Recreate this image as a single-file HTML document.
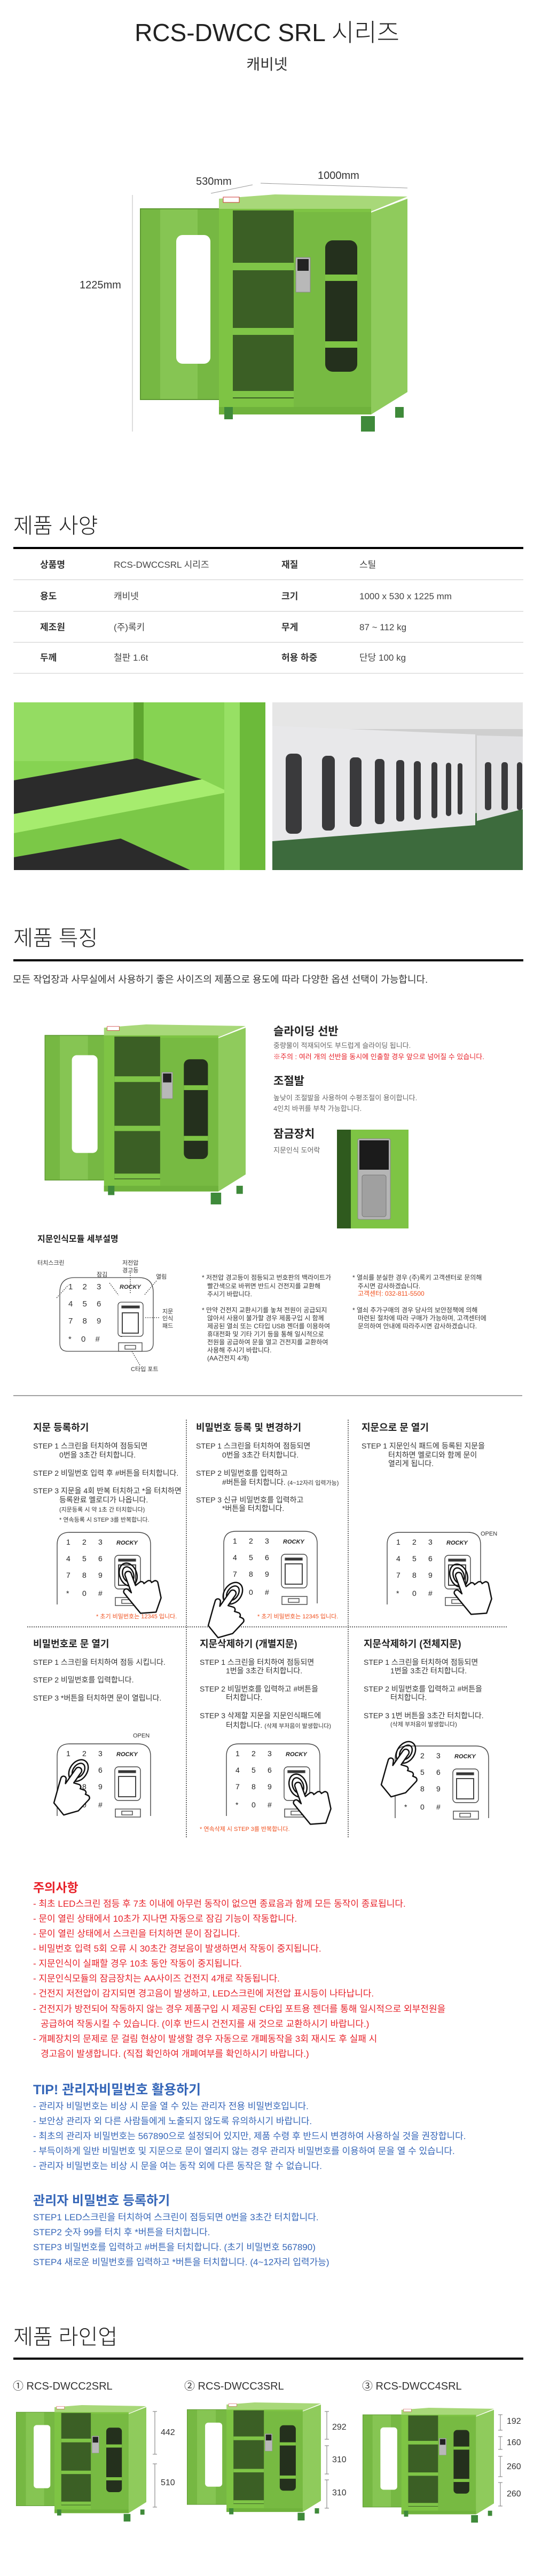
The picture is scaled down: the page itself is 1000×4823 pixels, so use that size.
<!DOCTYPE html>
<html><head><meta charset="utf-8">
<style>
*{margin:0;padding:0;box-sizing:border-box}
body{width:1000px;height:4823px;position:relative;background:#fff;font-family:"Liberation Sans","Noto Sans CJK KR",sans-serif;color:#333;overflow:hidden}
.t{position:absolute;white-space:nowrap}
.h1{font-size:40px;font-weight:300;color:#222;line-height:40px}
.ln{position:absolute;left:25px;width:955px;height:4px;background:#000}
.rl{position:absolute;left:25px;width:955px;height:1px;background:#ccc}
.lb{font-size:17px;font-weight:bold;color:#333;line-height:18px}
.vl{font-size:17px;color:#444;line-height:18px}
.ft{font-size:21px;font-weight:bold;color:#222;line-height:22px}
.fx{font-size:13px;color:#666;line-height:14px}
.nt{font-size:12px;color:#333;line-height:14px}
.st{font-size:18px;font-weight:bold;color:#222;line-height:20px}
.sp{font-size:14px;color:#333;line-height:16px}
.sm{font-size:11px;color:#333;line-height:12px}
.rd{color:#e8222a}
.or{color:#f0501e}
.cu{font-size:17px;color:#e8222a;line-height:18px}
.bl{font-size:17px;color:#3566b8;line-height:18px}
svg{position:absolute;left:0;top:0}
</style></head><body>
<svg width="1000" height="4823" viewBox="0 0 1000 4823">
<defs>
<symbol id="cab" viewBox="0 0 503 444" preserveAspectRatio="none">
<rect x="3" y="27" width="150" height="357" fill="#76b843"/>
<rect x="40" y="27" width="70" height="357" fill="#86c553"/>
<rect x="3" y="27" width="150" height="357" fill="none" stroke="#5f9a33" stroke-width="2"/>
<rect x="70" y="76" width="64" height="241" rx="12" fill="#fff"/>
<polygon points="150,8 255,0 503,4 430,34 150,34" fill="#a8d879"/>
<rect x="150" y="27" width="285" height="385" fill="#7ec444"/>
<rect x="176" y="30" width="114" height="352" fill="#3b5f25"/>
<rect x="176" y="128" width="114" height="14" fill="#7fc547"/>
<rect x="176" y="250" width="114" height="13" fill="#7fc547"/>
<rect x="176" y="368" width="114" height="12" fill="#7fc547"/>
<rect x="290" y="33" width="145" height="365" fill="#77ba42"/>
<rect x="349" y="86" width="60" height="246" rx="14" fill="#24301d"/>
<rect x="349" y="150" width="60" height="12" fill="#7ec444"/>
<rect x="349" y="275" width="60" height="12" fill="#7ec444"/>
<rect x="294" y="118" width="27" height="65" fill="#b8b8b8" stroke="#888"/>
<rect x="297" y="121" width="21" height="22" fill="#222"/>
<polygon points="435,34 503,8 503,370 435,412" fill="#8fcb5c"/>
<rect x="150" y="398" width="285" height="14" fill="#6fb23c"/>
<rect x="158" y="5" width="30" height="10" fill="#fff" stroke="#c33"/>
<rect x="160" y="398" width="16" height="23" fill="#3f8a3a"/>
<rect x="416" y="415" width="26" height="29" fill="#3f8a3a"/>
<rect x="480" y="398" width="16" height="20" fill="#3f8a3a"/>
</symbol>
</defs>
<!-- dims -->
<line x1="395" y1="362" x2="473" y2="346" stroke="#999"/>
<line x1="488" y1="343" x2="763" y2="352" stroke="#999"/>
<line x1="248" y1="365" x2="248" y2="808" stroke="#bbb"/>
<use href="#cab" x="260" y="364" width="503" height="444"/>
<!-- photos -->
<g transform="translate(26,1315)">
<rect width="471" height="314" fill="#86d352"/>
<rect width="230" height="110" fill="#94dc62"/>
<rect x="224" y="0" width="19" height="110" fill="#5ea62f"/>
<polygon points="0,146 230,105 352,144 0,209" fill="#2b2b2b"/>
<polygon points="0,209 352,144 403,168 0,245" fill="#a6ec6e"/>
<polygon points="0,245 403,168 403,314 0,314" fill="#7bc847"/>
<polygon points="0,290 200,255 330,314 0,314" fill="#2b2b2b"/>
<rect x="394" y="0" width="29" height="314" fill="#97e064"/>
<rect x="423" y="0" width="48" height="314" fill="#6cba3a"/>
</g>
<g transform="translate(510,1315)">
<rect width="469" height="314" fill="#cfcfcf"/>
<rect width="469" height="50" fill="#e6e6e6"/>
<polygon points="0,240 469,200 469,314 0,314" fill="#3d6b3d"/>
<polygon points="0,44 380,60 380,230 0,260" fill="#e8e8ea"/>
<polygon points="383,62 469,64 469,200 383,222" fill="#e2e2e4"/>
<g fill="#3a3a3c">
<rect x="25" y="96" width="30" height="150" rx="10"/><rect x="93" y="100" width="24" height="140" rx="9"/>
<rect x="145" y="103" width="22" height="130" rx="8"/><rect x="192" y="106" width="18" height="122" rx="7"/>
<rect x="232" y="108" width="15" height="115" rx="6"/><rect x="265" y="110" width="13" height="110" rx="6"/>
<rect x="298" y="112" width="11" height="105" rx="5"/><rect x="325" y="113" width="10" height="100" rx="5"/>
<rect x="347" y="114" width="9" height="96" rx="4"/><rect x="398" y="112" width="12" height="90" rx="5"/>
<rect x="429" y="112" width="12" height="90" rx="5"/><rect x="458" y="112" width="10" height="90" rx="5"/>
</g>
</g>
<use href="#cab" x="82" y="1918" width="378" height="337"/>
<!-- lock image -->
<rect x="631" y="2115" width="134" height="185" fill="#7ec444"/>
<rect x="631" y="2115" width="26" height="185" fill="#2f5a1e"/>
<rect x="670" y="2132" width="61" height="151" rx="3" fill="#b5b5b5" stroke="#888"/>
<rect x="673" y="2135" width="55" height="55" fill="#1b1b1b"/>
<rect x="678" y="2200" width="45" height="78" rx="4" fill="#a0a0a0" stroke="#777"/>
<!-- module diagram -->
<g fill="none" stroke="#444" stroke-width="1.3">
<path d="M112,2420 Q112,2392 140,2392 L260,2392 Q287,2392 287,2420 L287,2515 Q287,2530 272,2530 L127,2530 Q112,2530 112,2515 Z" fill="#fff"/>
<rect x="221" y="2438" width="47" height="64" rx="6"/>
<rect x="228" y="2445" width="33" height="4" fill="#333"/>
<rect x="229" y="2458" width="30" height="38" stroke-width="2"/>
<rect x="222" y="2514" width="44" height="16" fill="#fff"/>
<rect x="234" y="2519" width="20" height="7"/>
<path d="M106,2430 L128,2406" stroke-dasharray="2,2"/>
<path d="M205,2402 L222,2425" stroke-dasharray="2,2"/>
<path d="M244,2383 L244,2423" stroke-dasharray="2,2"/>
<path d="M293,2398 L270,2425" stroke-dasharray="2,2"/>
<path d="M272,2467 L300,2467" stroke-dasharray="2,2"/>
<path d="M247,2530 L262,2556" stroke-dasharray="2,2"/>
</g>
<rect x="226" y="2502" width="3" height="1" fill="#333"/>
<line x1="25" y1="2613" x2="978" y2="2613" stroke="#444"/>
<g stroke="#333" stroke-width="1.5" stroke-dasharray="2,2">
<line x1="349" y1="2658" x2="349" y2="3440"/>
<line x1="652" y1="2658" x2="652" y2="3440"/>
<line x1="51" y1="3046" x2="950" y2="3046"/>
</g>
<!-- line-up -->
<use href="#cab" x="29" y="4503" width="245" height="218"/>
<use href="#cab" x="349" y="4498" width="252" height="221"/>
<use href="#cab" x="678" y="4508" width="247" height="215"/>
<g stroke="#777" stroke-width="1">
<path d="M290,4515V4595M286,4515h8M286,4595h8M290,4613V4694M286,4613h8M286,4694h8"/>
<path d="M612,4515V4567M608,4515h8M608,4567h8M612,4579V4632M608,4579h8M608,4632h8M612,4643V4696M608,4643h8M608,4696h8"/>
<path d="M937,4521V4550M933,4521h8M933,4550h8M937,4562V4586M933,4562h8M933,4586h8M937,4599V4637M933,4599h8M933,4637h8M937,4648V4692M933,4648h8M933,4692h8"/>
</g>
</svg>

<!-- keypads as separate svgs -->
<svg style="left:106px;top:2868px" width="178" height="140" viewBox="0 0 178 140"><g fill="none" stroke="#444" stroke-width="1.4"><path d="M1,136 V24 Q1,1 24,1 H152 Q176,1 176,24 V136" fill="#fff"/><rect x="109" y="44" width="48" height="63" rx="7"/><rect x="116" y="51" width="32" height="4" fill="#333"/><rect x="116" y="62" width="32" height="38" stroke-width="2"/><rect x="110" y="123" width="47" height="15" fill="#fff"/><rect x="122" y="127" width="20" height="7"/></g><g font-size="14" fill="#222" font-family="Liberation Sans"><text x="18" y="24">1</text><text x="48" y="24">2</text><text x="78" y="24">3</text><text x="18" y="55">4</text><text x="48" y="55">5</text><text x="78" y="55">6</text><text x="18" y="86">7</text><text x="48" y="86">8</text><text x="78" y="86">9</text><text x="18" y="120">*</text><text x="48" y="120">0</text><text x="78" y="120">#</text><text x="112" y="24" font-size="11" font-weight="bold" font-style="italic">ROCKY</text></g></svg>
<svg style="left:418px;top:2866px" width="178" height="140" viewBox="0 0 178 140"><g fill="none" stroke="#444" stroke-width="1.4"><path d="M1,136 V24 Q1,1 24,1 H152 Q176,1 176,24 V136" fill="#fff"/><rect x="109" y="44" width="48" height="63" rx="7"/><rect x="116" y="51" width="32" height="4" fill="#333"/><rect x="116" y="62" width="32" height="38" stroke-width="2"/><rect x="110" y="123" width="47" height="15" fill="#fff"/><rect x="122" y="127" width="20" height="7"/></g><g font-size="14" fill="#222" font-family="Liberation Sans"><text x="18" y="24">1</text><text x="48" y="24">2</text><text x="78" y="24">3</text><text x="18" y="55">4</text><text x="48" y="55">5</text><text x="78" y="55">6</text><text x="18" y="86">7</text><text x="48" y="86">8</text><text x="78" y="86">9</text><text x="18" y="120">*</text><text x="48" y="120">0</text><text x="78" y="120">#</text><text x="112" y="24" font-size="11" font-weight="bold" font-style="italic">ROCKY</text></g></svg>
<svg style="left:724px;top:2868px" width="178" height="140" viewBox="0 0 178 140"><g fill="none" stroke="#444" stroke-width="1.4"><path d="M1,136 V24 Q1,1 24,1 H152 Q176,1 176,24 V136" fill="#fff"/><rect x="109" y="44" width="48" height="63" rx="7"/><rect x="116" y="51" width="32" height="4" fill="#333"/><rect x="116" y="62" width="32" height="38" stroke-width="2"/><rect x="110" y="123" width="47" height="15" fill="#fff"/><rect x="122" y="127" width="20" height="7"/></g><g font-size="14" fill="#222" font-family="Liberation Sans"><text x="18" y="24">1</text><text x="48" y="24">2</text><text x="78" y="24">3</text><text x="18" y="55">4</text><text x="48" y="55">5</text><text x="78" y="55">6</text><text x="18" y="86">7</text><text x="48" y="86">8</text><text x="78" y="86">9</text><text x="18" y="120">*</text><text x="48" y="120">0</text><text x="78" y="120">#</text><text x="112" y="24" font-size="11" font-weight="bold" font-style="italic">ROCKY</text></g></svg>
<svg style="left:106px;top:3264px" width="178" height="140" viewBox="0 0 178 140"><g fill="none" stroke="#444" stroke-width="1.4"><path d="M1,136 V24 Q1,1 24,1 H152 Q176,1 176,24 V136" fill="#fff"/><rect x="109" y="44" width="48" height="63" rx="7"/><rect x="116" y="51" width="32" height="4" fill="#333"/><rect x="116" y="62" width="32" height="38" stroke-width="2"/><rect x="110" y="123" width="47" height="15" fill="#fff"/><rect x="122" y="127" width="20" height="7"/></g><g font-size="14" fill="#222" font-family="Liberation Sans"><text x="18" y="24">1</text><text x="48" y="24">2</text><text x="78" y="24">3</text><text x="78" y="55">6</text><text x="48" y="86">8</text><text x="78" y="86">9</text><text x="18" y="120">*</text><text x="48" y="120">0</text><text x="78" y="120">#</text><text x="112" y="24" font-size="11" font-weight="bold" font-style="italic">ROCKY</text></g></svg>
<svg style="left:423px;top:3264px" width="178" height="140" viewBox="0 0 178 140"><g fill="none" stroke="#444" stroke-width="1.4"><path d="M1,136 V24 Q1,1 24,1 H152 Q176,1 176,24 V136" fill="#fff"/><rect x="109" y="44" width="48" height="63" rx="7"/><rect x="116" y="51" width="32" height="4" fill="#333"/><rect x="110" y="123" width="47" height="15" fill="#fff"/><rect x="122" y="127" width="20" height="7"/></g><g font-size="14" fill="#222" font-family="Liberation Sans"><text x="18" y="24">1</text><text x="48" y="24">2</text><text x="78" y="24">3</text><text x="18" y="55">4</text><text x="48" y="55">5</text><text x="78" y="55">6</text><text x="18" y="86">7</text><text x="48" y="86">8</text><text x="78" y="86">9</text><text x="18" y="120">*</text><text x="48" y="120">0</text><text x="78" y="120">#</text><text x="112" y="24" font-size="11" font-weight="bold" font-style="italic">ROCKY</text></g></svg>
<svg style="left:739px;top:3268px" width="178" height="140" viewBox="0 0 178 140"><g fill="none" stroke="#444" stroke-width="1.4"><path d="M1,136 V24 Q1,1 24,1 H152 Q176,1 176,24 V136" fill="#fff"/><rect x="109" y="44" width="48" height="63" rx="7"/><rect x="116" y="51" width="32" height="4" fill="#333"/><rect x="116" y="62" width="32" height="38" stroke-width="2"/><rect x="110" y="123" width="47" height="15" fill="#fff"/><rect x="122" y="127" width="20" height="7"/></g><g font-size="14" fill="#222" font-family="Liberation Sans"><text x="48" y="24">2</text><text x="78" y="24">3</text><text x="48" y="55">5</text><text x="78" y="55">6</text><text x="18" y="86">7</text><text x="48" y="86">8</text><text x="78" y="86">9</text><text x="18" y="120">*</text><text x="48" y="120">0</text><text x="78" y="120">#</text><text x="112" y="24" font-size="11" font-weight="bold" font-style="italic">ROCKY</text></g></svg>
<!-- hands -->
<svg width="1000" height="4823" viewBox="0 0 1000 4823" style="pointer-events:none">
<g fill="#fff" stroke="#111" stroke-width="2.5" stroke-linejoin="round">
<g transform="translate(240,2948) rotate(-20)"><ellipse rx="16" ry="22" fill="none"/><ellipse rx="10" ry="15" fill="none"/><path d="M-6,0 a6,6 0 0 1 12,0 v24 l9,-3 a5,5 0 0 1 7,5 l7,-2 a5,5 0 0 1 7,5 l5,-1 a5,5 0 0 1 6,6 l-4,28 l-18,22 l-28,-8 l-12,-34 l-4,-12 a5,5 0 0 1 9,-4 l4,8 z"/></g>
<g transform="translate(436,2983) rotate(35)"><ellipse rx="16" ry="22" fill="none"/><ellipse rx="10" ry="15" fill="none"/><path d="M-6,0 a6,6 0 0 1 12,0 v24 l9,-3 a5,5 0 0 1 7,5 l7,-2 a5,5 0 0 1 7,5 l5,-1 a5,5 0 0 1 6,6 l-4,28 l-18,22 l-28,-8 l-12,-34 l-4,-12 a5,5 0 0 1 9,-4 l4,8 z"/></g>
<g transform="translate(859,2950) rotate(-20)"><ellipse rx="16" ry="22" fill="none"/><ellipse rx="10" ry="15" fill="none"/><path d="M-6,0 a6,6 0 0 1 12,0 v24 l9,-3 a5,5 0 0 1 7,5 l7,-2 a5,5 0 0 1 7,5 l5,-1 a5,5 0 0 1 6,6 l-4,28 l-18,22 l-28,-8 l-12,-34 l-4,-12 a5,5 0 0 1 9,-4 l4,8 z"/></g>
<g transform="translate(147,3315) rotate(35)"><ellipse rx="16" ry="22" fill="none"/><ellipse rx="10" ry="15" fill="none"/><path d="M-6,0 a6,6 0 0 1 12,0 v24 l9,-3 a5,5 0 0 1 7,5 l7,-2 a5,5 0 0 1 7,5 l5,-1 a5,5 0 0 1 6,6 l-4,28 l-18,22 l-28,-8 l-12,-34 l-4,-12 a5,5 0 0 1 9,-4 l4,8 z"/></g>
<g transform="translate(558,3343) rotate(-20)"><ellipse rx="16" ry="22" fill="none"/><ellipse rx="10" ry="15" fill="none"/><path d="M-6,0 a6,6 0 0 1 12,0 v24 l9,-3 a5,5 0 0 1 7,5 l7,-2 a5,5 0 0 1 7,5 l5,-1 a5,5 0 0 1 6,6 l-4,28 l-18,22 l-28,-8 l-12,-34 l-4,-12 a5,5 0 0 1 9,-4 l4,8 z"/></g>
<g transform="translate(760,3281) rotate(35)"><ellipse rx="16" ry="22" fill="none"/><ellipse rx="10" ry="15" fill="none"/><path d="M-6,0 a6,6 0 0 1 12,0 v24 l9,-3 a5,5 0 0 1 7,5 l7,-2 a5,5 0 0 1 7,5 l5,-1 a5,5 0 0 1 6,6 l-4,28 l-18,22 l-28,-8 l-12,-34 l-4,-12 a5,5 0 0 1 9,-4 l4,8 z"/></g>
</g>
</svg>

<!-- TEXT -->
<div class="t" style="left:0;width:1000px;text-align:center;top:38px;font-size:46px;font-weight:300;color:#222;line-height:46px">RCS-DWCC SRL 시리즈</div>
<div class="t" style="left:0;width:1000px;text-align:center;top:107px;font-size:28px;color:#333;line-height:28px">캐비넷</div>
<div class="t" style="left:367px;top:330px;font-size:20px;line-height:20px">530mm</div>
<div class="t" style="left:595px;top:319px;font-size:20px;line-height:20px">1000mm</div>
<div class="t" style="left:149px;top:524px;font-size:20px;line-height:20px">1225mm</div>

<div class="t h1" style="left:25px;top:965px">제품 사양</div>
<div class="ln" style="top:1024px"></div>
<div class="rl" style="top:1085px"></div><div class="rl" style="top:1144px"></div><div class="rl" style="top:1202px"></div><div class="rl" style="top:1260px"></div>
<div class="t lb" style="left:75px;top:1049px">상품명</div><div class="t vl" style="left:213px;top:1049px">RCS-DWCCSRL 시리즈</div>
<div class="t lb" style="left:527px;top:1049px">재질</div><div class="t vl" style="left:673px;top:1049px">스틸</div>
<div class="t lb" style="left:75px;top:1108px">용도</div><div class="t vl" style="left:213px;top:1108px">캐비넷</div>
<div class="t lb" style="left:527px;top:1108px">크기</div><div class="t vl" style="left:673px;top:1108px">1000 x 530 x 1225 mm</div>
<div class="t lb" style="left:75px;top:1166px">제조원</div><div class="t vl" style="left:213px;top:1166px">(주)록키</div>
<div class="t lb" style="left:527px;top:1166px">무게</div><div class="t vl" style="left:673px;top:1166px">87 ~ 112 kg</div>
<div class="t lb" style="left:75px;top:1223px">두께</div><div class="t vl" style="left:213px;top:1223px">철판 1.6t</div>
<div class="t lb" style="left:527px;top:1223px">허용 하중</div><div class="t vl" style="left:673px;top:1223px">단당 100 kg</div>

<div class="t h1" style="left:25px;top:1737px">제품 특징</div>
<div class="ln" style="top:1796px"></div>
<div class="t" style="left:24px;top:1825px;font-size:18px;line-height:18px;color:#333">모든 작업장과 사무실에서 사용하기 좋은 사이즈의 제품으로 용도에 따라 다양한 옵션 선택이 가능합니다.</div>
<div class="t ft" style="left:512px;top:1921px">슬라이딩 선반</div>
<div class="t fx" style="left:512px;top:1951px">중량물이 적재되어도 부드럽게 슬라이딩 됩니다.</div>
<div class="t fx rd" style="left:512px;top:1972px">※주의 : 여러 개의 선반을 동시에 인출할 경우 앞으로 넘어질 수 있습니다.</div>
<div class="t ft" style="left:512px;top:2014px">조절발</div>
<div class="t fx" style="left:512px;top:2049px">높낮이 조절발을 사용하여 수평조절이 용이합니다.</div>
<div class="t fx" style="left:512px;top:2069px">4인치 바퀴를 부착 가능합니다.</div>
<div class="t ft" style="left:512px;top:2113px">잠금장치</div>
<div class="t fx" style="left:512px;top:2147px">지문인식 도어락</div>

<div class="t" style="left:70px;top:2312px;font-size:16px;font-weight:bold;line-height:18px;color:#222">지문인식모듈 세부설명</div>
<div class="t sm" style="left:70px;top:2359px">터치스크린</div>
<div class="t sm" style="left:229px;top:2359px">저전압</div>
<div class="t sm" style="left:229px;top:2373px">경고등</div>
<div class="t sm" style="left:181px;top:2381px">잠김</div>
<div class="t sm" style="left:292px;top:2385px">열림</div>
<div class="t sm" style="left:304px;top:2450px">지문</div>
<div class="t sm" style="left:304px;top:2463px">인식</div>
<div class="t sm" style="left:304px;top:2477px">패드</div>
<div class="t sm" style="left:245px;top:2558px">C타입 포트</div>
<div class="t" style="left:224px;top:2404px;font-size:11px;font-weight:bold;font-style:italic;line-height:12px">ROCKY</div>
<div class="t" style="left:128px;top:2402px;font-size:15px;line-height:16px;word-spacing:14px">1 2 3</div>
<div class="t" style="left:128px;top:2434px;font-size:15px;line-height:16px;word-spacing:14px">4 5 6</div>
<div class="t" style="left:128px;top:2466px;font-size:15px;line-height:16px;word-spacing:14px">7 8 9</div>
<div class="t" style="left:128px;top:2500px;font-size:15px;line-height:16px;word-spacing:14px">* 0 #</div>

<div class="t nt" style="left:378px;top:2385px">* 저전압 경고등이 점등되고 번호판의 백라이트가</div>
<div class="t nt" style="left:388px;top:2401px">빨간색으로 바뀌면 반드시 건전지를 교환해</div>
<div class="t nt" style="left:388px;top:2416px">주시기 바랍니다.</div>
<div class="t nt" style="left:378px;top:2446px">* 만약 건전지 교환시기를 놓쳐 전원이 공급되지</div>
<div class="t nt" style="left:388px;top:2461px">않아서 사용이 불가할 경우 제품구입 시 함께</div>
<div class="t nt" style="left:388px;top:2476px">제공된 열쇠 또는 C타입 USB 젠더를 이용하여</div>
<div class="t nt" style="left:388px;top:2491px">휴대전화 및 기타 기기 등을 통해 일시적으로</div>
<div class="t nt" style="left:388px;top:2506px">전원을 공급하여 문을 열고 건전지를 교환하여</div>
<div class="t nt" style="left:388px;top:2521px">사용해 주시기 바랍니다.</div>
<div class="t nt" style="left:388px;top:2536px">(AA건전지 4개)</div>
<div class="t nt" style="left:660px;top:2385px">* 열쇠를 분실한 경우 (주)록키 고객센터로 문의해</div>
<div class="t nt" style="left:670px;top:2401px">주시면 감사하겠습니다.</div>
<div class="t nt or" style="left:670px;top:2415px">고객센터: 032-811-5500</div>
<div class="t nt" style="left:660px;top:2446px">* 열쇠 추가구매의 경우 당사의 보안정책에 의해</div>
<div class="t nt" style="left:670px;top:2461px">마련된 절차에 따라 구매가 가능하며, 고객센터에</div>
<div class="t nt" style="left:670px;top:2476px">문의하여 안내에 따라주시면 감사하겠습니다.</div>

<div class="t st" style="left:62px;top:2663px">지문 등록하기</div>
<div class="t st" style="left:367px;top:2663px">비밀번호 등록 및 변경하기</div>
<div class="t st" style="left:677px;top:2663px">지문으로 문 열기</div>
<div class="t sp" style="left:62px;top:2699px">STEP 1 스크린을 터치하여 점등되면</div>
<div class="t sp" style="left:111px;top:2716px">0번을 3초간 터치합니다.</div>
<div class="t sp" style="left:62px;top:2750px">STEP 2 비밀번호 입력 후 #버튼을 터치합니다.</div>
<div class="t sp" style="left:62px;top:2783px">STEP 3 지문을 4회 반복 터치하고 *을 터치하면</div>
<div class="t sp" style="left:111px;top:2800px">등록완료 멜로디가 나옵니다.</div>
<div class="t sm" style="left:111px;top:2821px">(지문등록 시 약 1초 간 터치합니다)</div>
<div class="t sm" style="left:111px;top:2840px">* 연속등록 시 STEP 3를 반복합니다.</div>
<div class="t sp" style="left:367px;top:2699px">STEP 1 스크린을 터치하여 점등되면</div>
<div class="t sp" style="left:416px;top:2716px">0번을 3초간 터치합니다.</div>
<div class="t sp" style="left:367px;top:2750px">STEP 2 비밀번호를 입력하고</div>
<div class="t sp" style="left:416px;top:2767px">#버튼을 터치합니다. <span style="font-size:11px">(4~12자리 입력가능)</span></div>
<div class="t sp" style="left:367px;top:2800px">STEP 3 신규 비밀번호를 입력하고</div>
<div class="t sp" style="left:416px;top:2816px">*버튼을 터치합니다.</div>
<div class="t sp" style="left:677px;top:2699px">STEP 1 지문인식 패드에 등록된 지문을</div>
<div class="t sp" style="left:727px;top:2716px">터치하면 멜로디와 함께 문이</div>
<div class="t sp" style="left:727px;top:2732px">열리게 됩니다.</div>
<div class="t sm" style="left:900px;top:2866px">OPEN</div>
<div class="t sm or" style="left:180px;top:3021px">* 초기 비밀번호는 12345 입니다.</div>
<div class="t sm or" style="left:482px;top:3021px">* 초기 비밀번호는 12345 입니다.</div>

<div class="t st" style="left:62px;top:3068px">비밀번호로 문 열기</div>
<div class="t st" style="left:374px;top:3068px">지문삭제하기 (개별지문)</div>
<div class="t st" style="left:681px;top:3068px">지문삭제하기 (전체지문)</div>
<div class="t sp" style="left:62px;top:3104px">STEP 1 스크린을 터치하여 점등 시킵니다.</div>
<div class="t sp" style="left:62px;top:3137px">STEP 2 비밀번호를 입력합니다.</div>
<div class="t sp" style="left:62px;top:3171px">STEP 3 *버튼을 터치하면 문이 열립니다.</div>
<div class="t sp" style="left:374px;top:3104px">STEP 1 스크린을 터치하여 점등되면</div>
<div class="t sp" style="left:423px;top:3120px">1번을 3초간 터치합니다.</div>
<div class="t sp" style="left:374px;top:3154px">STEP 2 비밀번호를 입력하고 #버튼을</div>
<div class="t sp" style="left:423px;top:3170px">터치합니다.</div>
<div class="t sp" style="left:374px;top:3204px">STEP 3 삭제할 지문을 지문인식패드에</div>
<div class="t sp" style="left:423px;top:3222px">터치합니다. <span style="font-size:11px">(삭제 부저음이 발생합니다)</span></div>
<div class="t sp" style="left:681px;top:3104px">STEP 1 스크린을 터치하여 점등되면</div>
<div class="t sp" style="left:731px;top:3120px">1번을 3초간 터치합니다.</div>
<div class="t sp" style="left:681px;top:3154px">STEP 2 비밀번호를 입력하고 #버튼을</div>
<div class="t sp" style="left:731px;top:3170px">터치합니다.</div>
<div class="t sp" style="left:681px;top:3204px">STEP 3 1번 버튼을 3초간 터치합니다.</div>
<div class="t sm" style="left:731px;top:3223px">(삭제 부저음이 발생합니다)</div>
<div class="t sm" style="left:249px;top:3244px">OPEN</div>
<div class="t sm or" style="left:374px;top:3419px">* 연속삭제 시 STEP 3를 반복합니다.</div>

<div class="t" style="left:62px;top:3522px;font-size:23px;font-weight:bold;color:#e8222a;line-height:24px">주의사항</div>
<div class="t cu" style="left:62px;top:3556px">- 최초 LED스크린 점등 후 7초 이내에 아무런 동작이 없으면 종료음과 함께 모든 동작이 종료됩니다.</div>
<div class="t cu" style="left:62px;top:3584px">- 문이 열린 상태에서 10초가 지나면 자동으로 잠김 기능이 작동합니다.</div>
<div class="t cu" style="left:62px;top:3612px">- 문이 열린 상태에서 스크린을 터치하면 문이 잠깁니다.</div>
<div class="t cu" style="left:62px;top:3640px">- 비밀번호 입력 5회 오류 시 30초간 경보음이 발생하면서 작동이 중지됩니다.</div>
<div class="t cu" style="left:62px;top:3668px">- 지문인식이 실패할 경우 10초 동안 작동이 중지됩니다.</div>
<div class="t cu" style="left:62px;top:3696px">- 지문인식모듈의 잠금장치는 AA사이즈 건전지 4개로 작동됩니다.</div>
<div class="t cu" style="left:62px;top:3724px">- 건전지 저전압이 감지되면 경고음이 발생하고, LED스크린에 저전압 표시등이 나타납니다.</div>
<div class="t cu" style="left:62px;top:3753px">- 건전지가 방전되어 작동하지 않는 경우 제품구입 시 제공된 C타입 포트용 젠더를 통해 일시적으로 외부전원을</div>
<div class="t cu" style="left:76px;top:3781px">공급하여 작동시킬 수 있습니다. (이후 반드시 건전지를 새 것으로 교환하시기 바랍니다.)</div>
<div class="t cu" style="left:62px;top:3809px">- 개폐장치의 문제로 문 걸림 현상이 발생할 경우 자동으로 개폐동작을 3회 재시도 후 실패 시</div>
<div class="t cu" style="left:76px;top:3837px">경고음이 발생합니다. (직접 확인하여 개폐여부를 확인하시기 바랍니다.)</div>

<div class="t" style="left:62px;top:3901px;font-size:25px;font-weight:bold;color:#3566b8;line-height:25px">TIP! 관리자비밀번호 활용하기</div>
<div class="t bl" style="left:62px;top:3935px">- 관리자 비밀번호는 비상 시 문을 열 수 있는 관리자 전용 비밀번호입니다.</div>
<div class="t bl" style="left:62px;top:3963px">- 보안상 관리자 외 다른 사람들에게 노출되지 않도록 유의하시기 바랍니다.</div>
<div class="t bl" style="left:62px;top:3991px">- 최초의 관리자 비밀번호는 567890으로 설정되어 있지만, 제품 수령 후 반드시 변경하여 사용하실 것을 권장합니다.</div>
<div class="t bl" style="left:62px;top:4019px">- 부득이하게 일반 비밀번호 및 지문으로 문이 열리지 않는 경우 관리자 비밀번호를 이용하여 문을 열 수 있습니다.</div>
<div class="t bl" style="left:62px;top:4047px">- 관리자 비밀번호는 비상 시 문을 여는 동작 외에 다른 동작은 할 수 없습니다.</div>

<div class="t" style="left:62px;top:4109px;font-size:24px;font-weight:bold;color:#3566b8;line-height:24px">관리자 비밀번호 등록하기</div>
<div class="t bl" style="left:62px;top:4143px">STEP1 LED스크린을 터치하여 스크린이 점등되면 0번을 3초간 터치합니다.</div>
<div class="t bl" style="left:62px;top:4171px">STEP2 숫자 99를 터치 후 *버튼을 터치합니다.</div>
<div class="t bl" style="left:62px;top:4199px">STEP3 비밀번호를 입력하고 #버튼을 터치합니다. (초기 비밀번호 567890)</div>
<div class="t bl" style="left:62px;top:4227px">STEP4 새로운 비밀번호를 입력하고 *버튼을 터치합니다. (4~12자리 입력가능)</div>

<div class="t h1" style="left:25px;top:4356px">제품 라인업</div>
<div class="ln" style="top:4414px"></div>
<div class="t" style="left:24px;top:4458px;font-size:20px;line-height:20px;color:#333">① RCS-DWCC2SRL</div>
<div class="t" style="left:345px;top:4458px;font-size:20px;line-height:20px;color:#333">② RCS-DWCC3SRL</div>
<div class="t" style="left:678px;top:4458px;font-size:20px;line-height:20px;color:#333">③ RCS-DWCC4SRL</div>
<div class="t" style="left:301px;top:4547px;font-size:16px;line-height:16px">442</div>
<div class="t" style="left:301px;top:4641px;font-size:16px;line-height:16px">510</div>
<div class="t" style="left:622px;top:4537px;font-size:16px;line-height:16px">292</div>
<div class="t" style="left:622px;top:4598px;font-size:16px;line-height:16px">310</div>
<div class="t" style="left:622px;top:4660px;font-size:16px;line-height:16px">310</div>
<div class="t" style="left:949px;top:4526px;font-size:16px;line-height:16px">192</div>
<div class="t" style="left:949px;top:4566px;font-size:16px;line-height:16px">160</div>
<div class="t" style="left:949px;top:4611px;font-size:16px;line-height:16px">260</div>
<div class="t" style="left:949px;top:4662px;font-size:16px;line-height:16px">260</div>
</body></html>
